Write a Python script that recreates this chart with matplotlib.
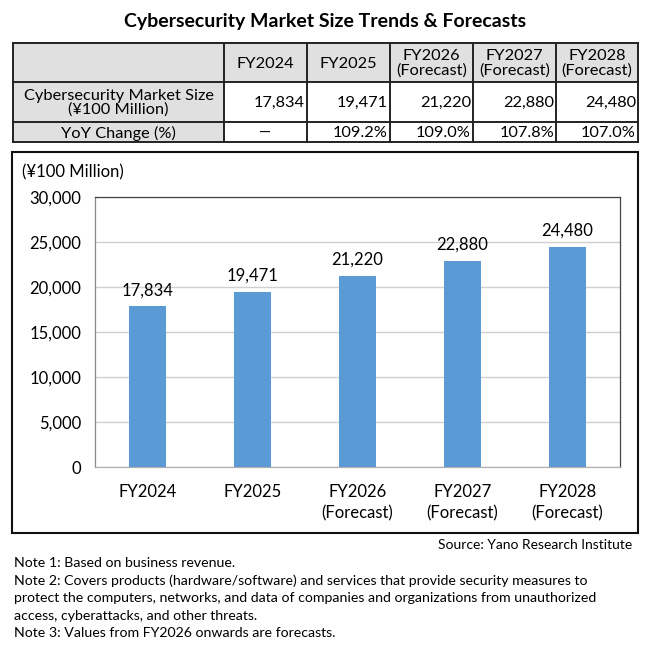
import matplotlib
matplotlib.use("Agg")
import matplotlib.pyplot as plt
from matplotlib.patches import Rectangle
from matplotlib.lines import Line2D

plt.rcParams['font.family'] = ['Lato', 'DejaVu Sans']

# data
years = ["FY2024", "FY2025", "FY2026\n(Forecast)", "FY2027\n(Forecast)", "FY2028\n(Forecast)"]
market_size = [17834, 19471, 21220, 22880, 24480]
yoy = ["\u2014", "109.2%", "109.0%", "107.8%", "107.0%"]
row_labels = ["Cybersecurity Market Size\n(\u00a5100 Million)", "YoY Change (%)"]
notes = [
    "Note 1: Based on business revenue.",
    "Note 2: Covers products (hardware/software) and services that provide security measures to",
    "protect the computers, networks, and data of companies and organizations from unauthorized",
    "access, cyberattacks, and other threats.",
    "Note 3: Values from FY2026 onwards are forecasts.",
]

W = H = 650
fig = plt.figure(figsize=(6.5, 6.5), dpi=100)

def fx(x):
    return x / W

def fy(y):
    return 1 - y / H

def hline(x0, x1, y, lw=1.0, c="#222222"):
    fig.add_artist(Line2D([fx(x0), fx(x1)], [fy(y), fy(y)], lw=lw, color=c))

def vline(x, y0, y1, lw=1.0, c="#222222"):
    fig.add_artist(Line2D([fx(x), fx(x)], [fy(y0), fy(y1)], lw=lw, color=c))

def rect(x0, y0, x1, y1, fc="none", ec="none", lw=0):
    fig.add_artist(Rectangle((fx(x0), fy(y1)), fx(x1) - fx(x0), fy(y0) - fy(y1),
                             facecolor=fc, edgecolor=ec, lw=lw))

# title
fig.text(fx(325), fy(21), "Cybersecurity Market Size Trends & Forecasts",
         ha="center", va="center", fontsize=14, fontweight="bold")

# table
cols = [13, 224, 307, 390, 473, 556, 638]
rows = [43, 82, 122, 142]
gray = "#e0e0e0"
rect(cols[0], rows[0], cols[-1], rows[1], fc=gray)
rect(cols[0], rows[1], cols[1], rows[3], fc=gray)
for y in rows:
    hline(cols[0], cols[-1], y, lw=1.4)
for x in cols:
    vline(x, rows[0], rows[3], lw=1.4)

tfs = 11.8
for i, yr in enumerate(years):
    cx = (cols[i + 1] + cols[i + 2]) / 2
    fig.text(fx(cx), fy((rows[0] + rows[1]) / 2 + 1), yr, ha="center", va="center",
             fontsize=tfs, linespacing=1.05)
    fig.text(fx(cols[i + 2] - 2), fy((rows[1] + rows[2]) / 2 + 1), f"{market_size[i]:,}",
             ha="right", va="center", fontsize=tfs)
    if yoy[i] == "\u2014":
        fig.text(fx(cx), fy((rows[2] + rows[3]) / 2 + 1), yoy[i], ha="center", va="center",
                 fontsize=tfs - 1)
    else:
        fig.text(fx(cols[i + 2] - 2), fy((rows[2] + rows[3]) / 2 + 1), yoy[i],
                 ha="right", va="center", fontsize=tfs)
lx = (cols[0] + cols[1]) / 2
fig.text(fx(lx), fy((rows[1] + rows[2]) / 2 + 1), row_labels[0], ha="center", va="center",
         fontsize=tfs, linespacing=1.0)
fig.text(fx(lx), fy((rows[2] + rows[3]) / 2 + 1), row_labels[1], ha="center", va="center", fontsize=tfs)

# chart frame
rect(12, 152, 638, 533, ec="#111111", lw=1.5)

ax = fig.add_axes([fx(95), fy(467), fx(620) - fx(95), fy(197) - fy(467)])
x = range(len(years))
bars = ax.bar(x, market_size, width=0.36, color="#5b9bd5", zorder=3)
ax.set_ylim(0, 30000)
ax.set_xlim(-0.5, len(years) - 0.5)
ax.set_yticks(range(0, 30001, 5000))
ax.set_yticklabels([f"{v:,}" for v in range(0, 30001, 5000)], fontsize=12)
ax.set_xticks(list(x))
ax.set_xticklabels(years, fontsize=12, linespacing=1.45)
ax.tick_params(length=0, pad=10)
ax.tick_params(axis="x", pad=12)
ax.yaxis.grid(True, color="#d0d0d0", lw=1.0, zorder=0)
for s in ax.spines.values():
    s.set_color("#444444")
    s.set_linewidth(0.9)
ax.spines["bottom"].set_color("#b0b0b0")
ax.spines["left"].set_color("#888888")
for b, v in zip(bars, market_size):
    ax.annotate(f"{v:,}", (b.get_x() + b.get_width() / 2, v), xytext=(0, 6),
                textcoords="offset points", ha="center", va="bottom", fontsize=12)

fig.text(fx(22), fy(172), "(\u00a5100 Million)", ha="left", va="center", fontsize=12)

# source and notes
fig.text(fx(632), fy(545), "Source: Yano Research Institute", ha="right", va="center", fontsize=10)
for i, n in enumerate(notes):
    fig.text(fx(14), fy(563 + i * 17.5), n, ha="left", va="center", fontsize=10.2)

fig.savefig("out.png", dpi=100, facecolor="white")
